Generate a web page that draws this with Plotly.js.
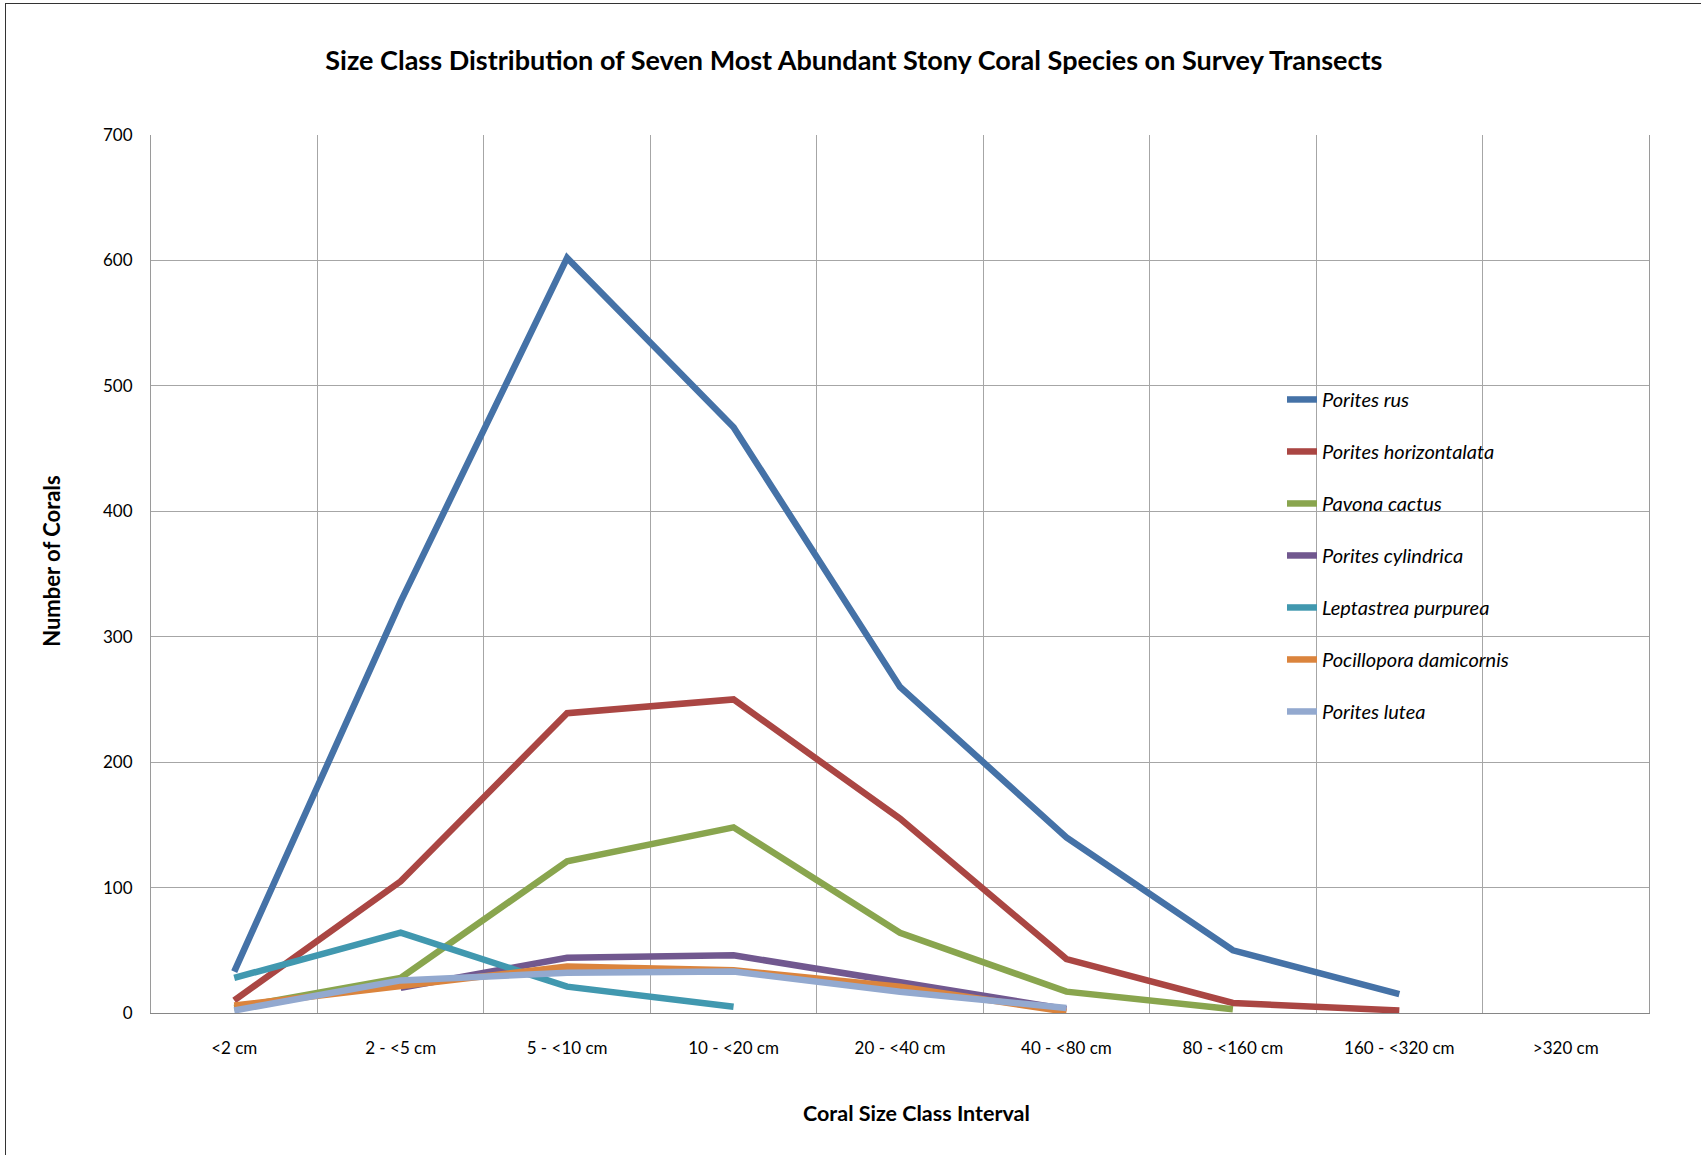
<!DOCTYPE html>
<html>
<head>
<meta charset="utf-8">
<script src="https://cdn.plot.ly/plotly-3.0.1.min.js"></script>
<style>
  body { margin: 0; background: #fff; }
  #frame { position: absolute; left: 5px; top: 3px; width: 1800px; height: 1300px;
           border-left: 1px solid #333; border-top: 1px solid #333; pointer-events: none; }
  #plot { position: absolute; left: 0; top: 0; width: 1701px; height: 1155px; }
</style>
</head>
<body>
<div id="plot"></div>
<div id="frame"></div>
<script>
// size classes on the x axis
const sizeClasses = ['<2 cm', '2 - <5 cm', '5 - <10 cm', '10 - <20 cm', '20 - <40 cm',
  '40 - <80 cm', '80 - <160 cm', '160 - <320 cm', '>320 cm'];

const speciesNames = ['Porites rus', 'Porites horizontalata', 'Pavona cactus',
  'Porites cylindrica', 'Leptastrea purpurea', 'Pocillopora damicornis', 'Porites lutea'];

// counts per size class (null = no data)
const poritesRus = [33, 328, 602, 467, 260, 140, 50, 15, null];
const poritesHorizontalata = [10, 105, 239, 250, 155, 43, 8, 2, null];
const pavonaCactus = [4, 28, 121, 148, 64, 17, 3, null, null];
const poritesCylindrica = [null, 20, 44, 46, 24, 3, null, null, null];
const leptastreaPurpurea = [28, 64, 21, 5, null, null, null, null, null];
const pocilloporaDamicornis = [6, 21, 37, 34, 21, 1, null, null, null];
const poritesLutea = [2, 26, 32, 33, 17, 4, null, null, null];

const seriesValues = [poritesRus, poritesHorizontalata, pavonaCactus, poritesCylindrica,
  leptastreaPurpurea, pocilloporaDamicornis, poritesLutea];
const colors = ['#4572A7', '#AA4643', '#89A54E', '#71588F', '#4198AF', '#DB843D', '#93A9CF'];

const font = 'Lato, "Open Sans", sans-serif';

const data = seriesValues.map((vals, i) => ({
  x: sizeClasses,
  y: vals,
  type: 'scatter',
  mode: 'lines',
  name: speciesNames[i],
  legendgroup: 'g' + i,
  line: { color: colors[i], width: 6.5 }
}));

const layout = {
  width: 1701,
  height: 1155,
  margin: { l: 151, r: 52, t: 135, b: 142 },
  paper_bgcolor: '#fff',
  plot_bgcolor: '#fff',
  font: { family: font, color: '#000', size: 17 },
  showlegend: true,
  title: {
    text: '<b>Size Class Distribution of Seven Most Abundant Stony Coral Species on Survey Transects</b>',
    font: { family: font, size: 27, color: '#000' },
    x: 0.502, xanchor: 'center', y: 0.948, yanchor: 'middle'
  },
  xaxis: {
    type: 'category',
    range: [-0.5, 8.5],
    tickson: 'boundaries',
    showgrid: true,
    gridcolor: '#a6a6a6',
    gridwidth: 1,
    showline: true,
    linecolor: '#868686',
    ticks: '',
    ticklabelstandoff: 20,
    tickfont: { family: font, size: 17 }
  },
  yaxis: {
    range: [0, 700],
    dtick: 100,
    showgrid: true,
    gridcolor: '#a6a6a6',
    gridwidth: 1,
    showline: true,
    mirror: true,
    linecolor: '#9a9a9a',
    zeroline: false,
    ticks: '',
    ticklabelstandoff: 14,
    tickfont: { family: font, size: 17 }
  },
  annotations: [
    {
      text: '<b>Number of Corals</b>', textangle: -90,
      xref: 'paper', yref: 'paper', x: -0.066, y: 0.514,
      xanchor: 'center', yanchor: 'middle', showarrow: false,
      font: { family: font, size: 22 }
    },
    {
      text: '<b>Coral Size Class Interval</b>',
      xref: 'paper', yref: 'paper', x: 0.511, y: -0.114,
      xanchor: 'center', yanchor: 'middle', showarrow: false,
      font: { family: font, size: 21.5 }
    }
  ],
  legend: {
    x: 0.755, xanchor: 'left',
    y: 0.721, yanchor: 'top',
    bgcolor: 'rgba(0,0,0,0)',
    font: { family: font, size: 20, style: 'italic' },
    tracegroupgap: 23,
    itemwidth: 30
  }
};

Plotly.newPlot('plot', data, layout, { displayModeBar: false });
</script>
</body>
</html>
